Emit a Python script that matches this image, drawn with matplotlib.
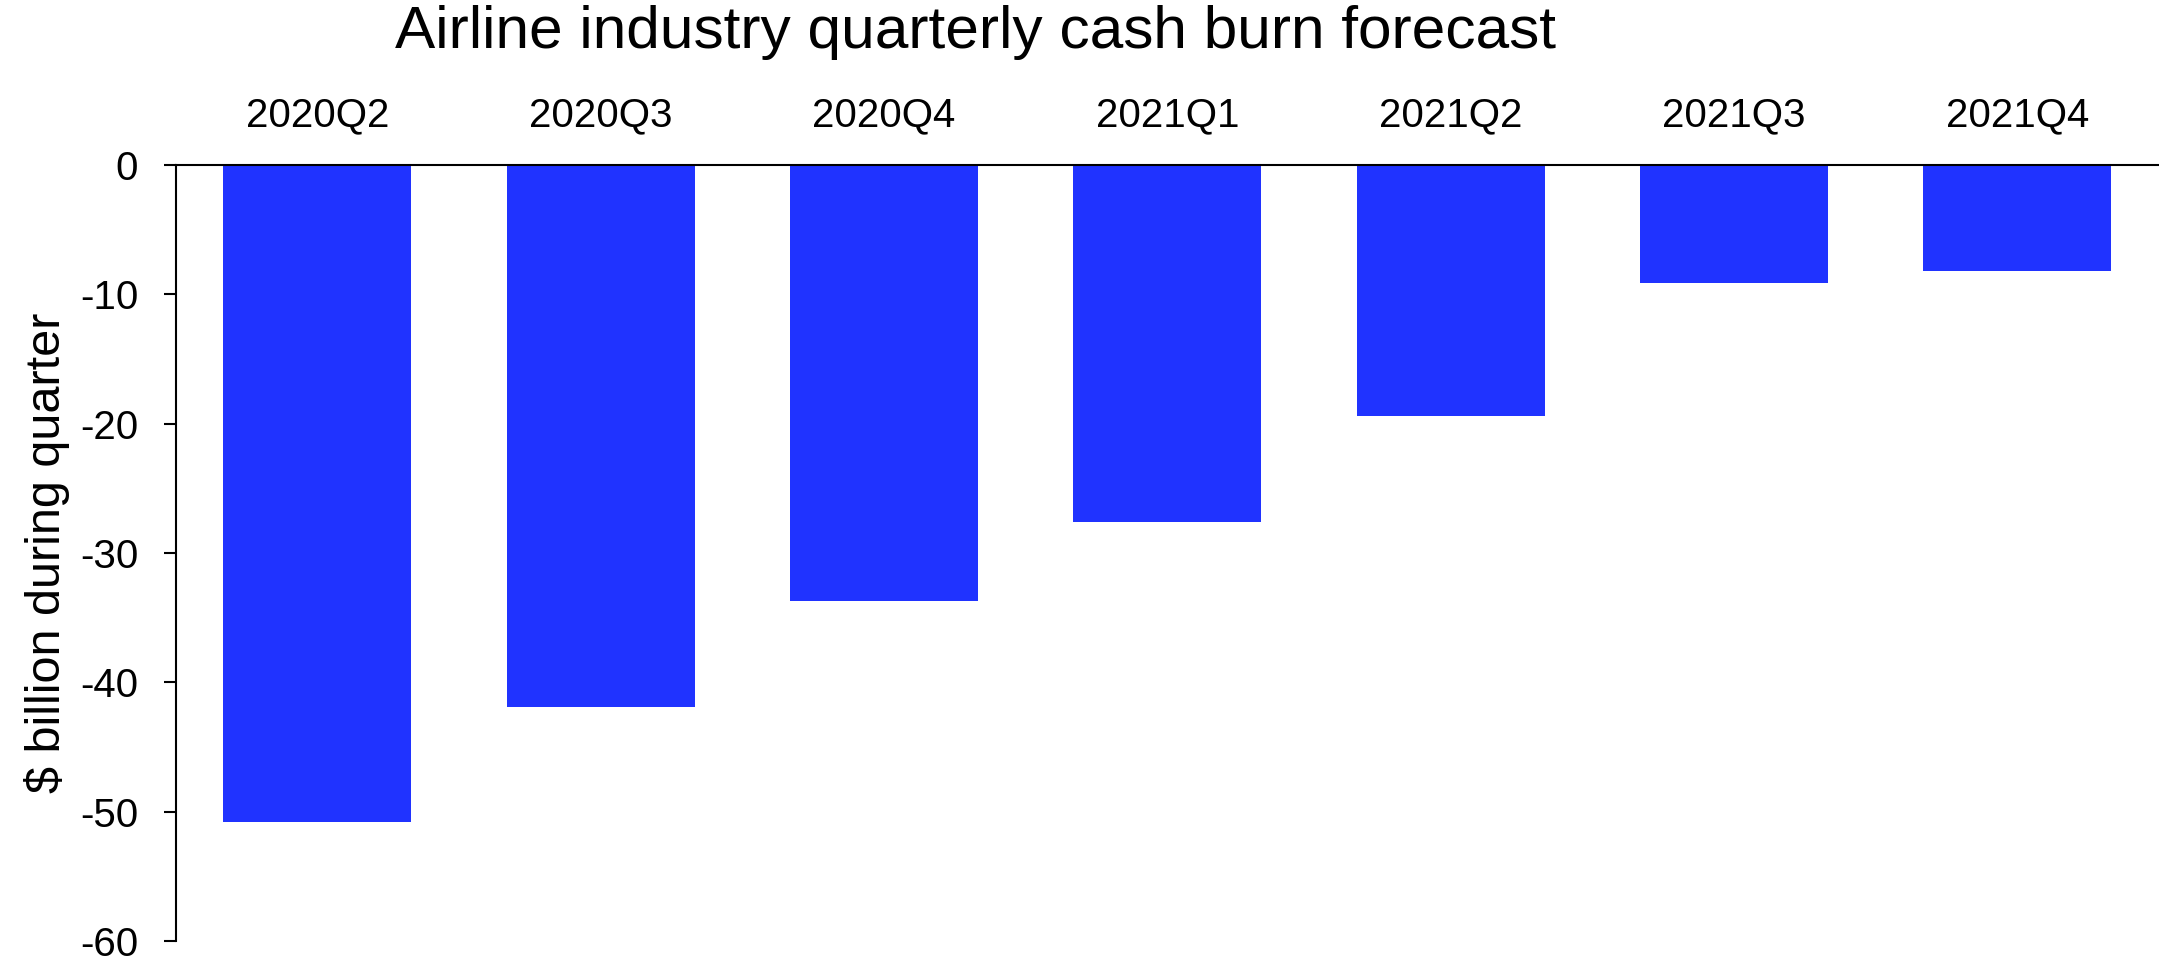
import matplotlib
matplotlib.use("Agg")
import matplotlib.pyplot as plt

quarters = ["2020Q2", "2020Q3", "2020Q4", "2021Q1", "2021Q2", "2021Q3", "2021Q4"]
cash_burn = [-50.8, -41.9, -33.7, -27.6, -19.4, -9.1, -8.2]
yticks = [0, -10, -20, -30, -40, -50, -60]

plt.rcParams['font.family'] = ['Liberation Sans', 'DejaVu Sans']
plt.rcParams['axes.unicode_minus'] = False

fig = plt.figure(figsize=(21.59, 9.59), dpi=100)
ax = fig.add_axes([0.0814, 0.0188, 0.9186, 0.8092])

x = list(range(len(quarters)))
ax.bar(x, cash_burn, width=0.663, color="#2033FF", edgecolor="none")

ax.set_xlim(-0.5, 6.5)
ax.set_ylim(-60, 0)
ax.set_yticks(yticks)
ax.set_yticklabels([str(v) for v in yticks])
ax.set_xticks(x)
ax.set_xticklabels(quarters)
ax.xaxis.tick_top()
ax.tick_params(axis='x', length=0, pad=22, labelsize=29)
ax.tick_params(axis='y', direction='out', length=9, width=1.5, pad=18, labelsize=29)

for s in ['right', 'bottom']:
    ax.spines[s].set_visible(False)
ax.spines['top'].set_linewidth(1.5)
ax.spines['left'].set_linewidth(1.5)

ax.set_ylabel("$ billion during quarter", fontsize=35, labelpad=7)
fig.text(0.4516, 0.966, "Airline industry quarterly cash burn forecast", ha='center', va='center', fontsize=43.5)

fig.savefig("out.png", dpi=100)
